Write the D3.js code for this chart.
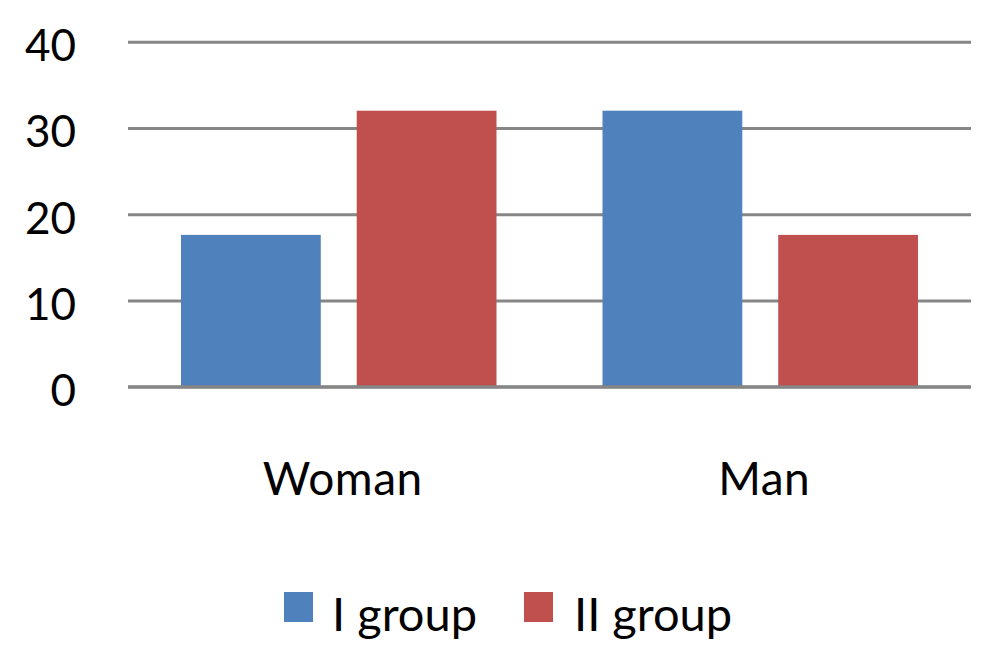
<!DOCTYPE html>
<html>
<head>
<meta charset="utf-8">
<script src="https://cdn.jsdelivr.net/npm/d3@7/dist/d3.min.js"></script>
<style>
  html, body { margin: 0; padding: 0; background: #fff; }
  svg { display: block; font-family: Lato, "Open Sans", sans-serif; }
</style>
</head>
<body>
<svg id="chart" width="1000" height="665"></svg>
<script>
const categories = ["Woman", "Man"];
const seriesNames = ["I group", "II group"];
const seriesColors = ["#4F81BD", "#C0504D"];
const groupI = [17.6, 32];
const groupII = [32, 17.6];
const yTicks = [0, 10, 20, 30, 40];

const svg = d3.select("#chart");
const plotLeft = 128, plotRight = 971, plotTop = 41.7, plotBottom = 386.7;

const y = d3.scaleLinear().domain([0, 40]).range([plotBottom, plotTop]);
const x0 = d3.scaleBand().domain(categories).range([plotLeft, plotRight]).padding(0);
const x1 = d3.scaleBand().domain(seriesNames)
  .range([53, x0.bandwidth() - 53]).paddingInner(36 / 176).paddingOuter(0);

// gridlines + y labels
const yAxis = d3.axisLeft(y).tickValues(yTicks).tickSize(-(plotRight - plotLeft)).tickPadding(52).tickFormat(d3.format("d"));
const ga = svg.append("g").attr("transform", `translate(${plotLeft},0)`).call(yAxis)
  .attr("font-family", "Lato, 'Open Sans', sans-serif");
ga.select(".domain").remove();
ga.selectAll(".tick line").attr("stroke", "#868686").attr("stroke-width", 3);
ga.selectAll(".tick text").attr("font-size", 44).attr("fill", "#000").attr("dy", "0.43em");

const data = categories.map((c, i) => ({ cat: c, vals: [groupI[i], groupII[i]] }));

const groups = svg.append("g").selectAll("g").data(data).join("g")
  .attr("transform", d => `translate(${x0(d.cat)},0)`);
groups.selectAll("rect").data(d => d.vals.map((v, j) => ({ s: seriesNames[j], v, j })))
  .join("rect")
  .attr("x", d => x1(d.s))
  .attr("width", x1.bandwidth())
  .attr("y", d => y(d.v))
  .attr("height", d => y(0) - y(d.v))
  .attr("fill", d => seriesColors[d.j]);

// redraw baseline on top
svg.append("line").attr("x1", plotLeft).attr("x2", plotRight).attr("y1", y(0)).attr("y2", y(0))
  .attr("stroke", "#868686").attr("stroke-width", 3);

// category labels
svg.append("g").selectAll("text").data(categories).join("text")
  .attr("x", d => x0(d) + x0.bandwidth() / 2 + 4)
  .attr("y", 495)
  .attr("text-anchor", "middle")
  .attr("font-size", 46)
  .attr("letter-spacing", 0.5)
  .attr("fill", "#000")
  .text(d => d);

// legend
const legendX = [284, 524];
const lg = svg.append("g").selectAll("g").data(seriesNames).join("g")
  .attr("transform", (d, i) => `translate(${legendX[i]},592)`);
lg.append("rect").attr("width", 29).attr("height", 30).attr("fill", (d, i) => seriesColors[i]);
lg.append("text").attr("x", (d, i) => i === 0 ? 48 : 50).attr("y", 39)
  .attr("font-size", 47).attr("fill", "#000").text(d => d);
</script>
</body>
</html>
